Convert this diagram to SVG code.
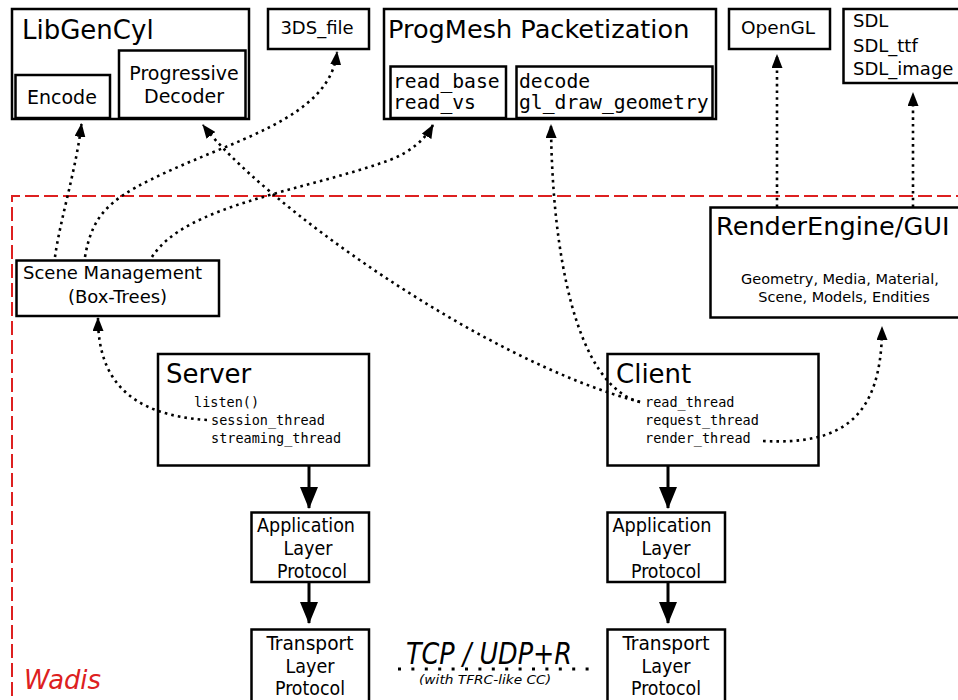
<svg xmlns="http://www.w3.org/2000/svg" width="958" height="700" viewBox="0 0 958 700">
<style>
.box{fill:#fff;stroke:#000;stroke-width:2.5}
.t{font-family:"DejaVu Sans","Liberation Sans",sans-serif;fill:#000}
.m{font-family:"DejaVu Sans Mono","Liberation Mono",monospace;fill:#000}
.c{font-family:"DejaVu Sans Condensed","DejaVu Sans","Liberation Sans",sans-serif;fill:#000;font-size:20px}
.dot{fill:none;stroke:#000;stroke-width:2.6;stroke-dasharray:2.6 4.1}
.sol{fill:none;stroke:#000;stroke-width:3}
</style>
<defs>
<marker id="ad" markerUnits="userSpaceOnUse" markerWidth="14" markerHeight="11" viewBox="0 0 14 11" refX="13" refY="5.5" orient="auto"><path d="M0,0 L14,5.5 L0,11 z" fill="#000"/></marker>
<marker id="as" markerUnits="userSpaceOnUse" markerWidth="22" markerHeight="18" viewBox="0 0 22 18" refX="21" refY="9" orient="auto"><path d="M0,0 L22,9 L0,18 z" fill="#000"/></marker>
</defs>
<rect width="958" height="700" fill="#fff"/>
<g id="wadis">
<path d="M970,196 L12,196 L12,710" fill="none" stroke="#dd2020" stroke-width="2" stroke-dasharray="14 5"/>
<text x="24" y="689" font-family="DejaVu Sans,sans-serif" font-style="italic" font-size="26" fill="#dd2020" textLength="77" lengthAdjust="spacingAndGlyphs">Wadis</text>
</g>
<g id="libgencyl">
<rect class="box" x="12" y="9" width="237" height="110"/>
<text class="t" x="22" y="39" font-size="26">LibGenCyl</text>
<rect class="box" x="15.5" y="75" width="94.5" height="43"/>
<text class="t" x="27" y="104" font-size="19">Encode</text>
<rect class="box" x="119" y="50.5" width="126.5" height="67.5"/>
<text class="t" x="184" y="80" font-size="19" text-anchor="middle">Progressive</text>
<text class="t" x="184" y="103" font-size="19" text-anchor="middle">Decoder</text>
</g>
<g id="file3ds">
<rect class="box" x="268" y="9" width="101" height="40"/>
<text class="t" x="317" y="34" font-size="18" text-anchor="middle">3DS_file</text>
</g>
<g id="progmesh">
<rect class="box" x="384" y="9" width="332" height="110"/>
<text class="t" x="388" y="38" font-size="25.6">ProgMesh Packetization</text>
<rect class="box" x="390.5" y="66.5" width="115.5" height="51.5"/>
<text class="m" x="393" y="88" font-size="19.7">read_base</text>
<text class="m" x="393" y="109" font-size="19.7">read_vs</text>
<rect class="box" x="516.5" y="66.5" width="196" height="51.5"/>
<text class="m" x="519" y="88" font-size="19.7">decode</text>
<text class="m" x="519" y="109" font-size="19.7">gl_draw_geometry</text>
</g>
<g id="opengl">
<rect class="box" x="729" y="9" width="101" height="40"/>
<text class="t" x="741" y="34" font-size="18.5">OpenGL</text>
</g>
<g id="sdl">
<rect class="box" x="843.5" y="9" width="125" height="74"/>
<text class="t" x="853" y="27" font-size="18">SDL</text>
<text class="t" x="853" y="52" font-size="18">SDL_ttf</text>
<text class="t" x="853" y="75" font-size="18">SDL_image</text>
</g>
<g id="renderengine">
<rect class="box" x="710.5" y="207.5" width="256" height="110"/>
<text class="t" x="716" y="235" font-size="25.6">RenderEngine/GUI</text>
<text class="t" x="840" y="284" font-size="14.5" text-anchor="middle">Geometry, Media, Material,</text>
<text class="t" x="844" y="302" font-size="14.5" text-anchor="middle">Scene, Models, Endities</text>
</g>
<g id="scene">
<rect class="box" x="16.5" y="260.5" width="202.5" height="55.5"/>
<text class="t" x="23" y="279" font-size="18">Scene Management</text>
<text class="t" x="117.5" y="303" font-size="18" text-anchor="middle">(Box-Trees)</text>
</g>
<g id="server">
<rect class="box" x="158" y="354" width="211" height="111.5"/>
<text class="t" x="166" y="383" font-size="26">Server</text>
<text class="m" x="194" y="407" font-size="13.5">listen()</text>
<text class="m" x="211" y="425" font-size="13.5">session_thread</text>
<text class="m" x="211" y="443" font-size="13.5">streaming_thread</text>
</g>
<g id="client">
<rect class="box" x="607.5" y="354" width="211" height="111.5"/>
<text class="t" x="616" y="383" font-size="26">Client</text>
<text class="m" x="645" y="407" font-size="13.5">read_thread</text>
<text class="m" x="645" y="425" font-size="13.5">request_thread</text>
<text class="m" x="645" y="443" font-size="13.5">render_thread</text>
</g>
<g id="server-app">
<rect class="box" x="251.5" y="512.5" width="117.5" height="69.5"/>
<text class="c" x="306" y="532" text-anchor="middle" textLength="98" lengthAdjust="spacingAndGlyphs">Application</text>
<text class="c" x="308" y="555" text-anchor="middle" textLength="49" lengthAdjust="spacingAndGlyphs">Layer</text>
<text class="c" x="312" y="578" text-anchor="middle" textLength="70" lengthAdjust="spacingAndGlyphs">Protocol</text>
</g>
<g id="client-app">
<rect class="box" x="607.5" y="512.5" width="117.5" height="69.5"/>
<text class="c" x="662" y="532" text-anchor="middle" textLength="99" lengthAdjust="spacingAndGlyphs">Application</text>
<text class="c" x="666" y="555" text-anchor="middle" textLength="49" lengthAdjust="spacingAndGlyphs">Layer</text>
<text class="c" x="666" y="578" text-anchor="middle" textLength="70" lengthAdjust="spacingAndGlyphs">Protocol</text>
</g>
<g id="server-transport">
<rect class="box" x="251.5" y="629.5" width="117.5" height="80"/>
<text class="c" x="310" y="650" text-anchor="middle" textLength="87" lengthAdjust="spacingAndGlyphs">Transport</text>
<text class="c" x="310" y="673" text-anchor="middle" textLength="49" lengthAdjust="spacingAndGlyphs">Layer</text>
<text class="c" x="310" y="695" text-anchor="middle" textLength="70" lengthAdjust="spacingAndGlyphs">Protocol</text>
</g>
<g id="client-transport">
<rect class="box" x="607.5" y="629.5" width="117.5" height="80"/>
<text class="c" x="666" y="650" text-anchor="middle" textLength="87" lengthAdjust="spacingAndGlyphs">Transport</text>
<text class="c" x="666" y="673" text-anchor="middle" textLength="49" lengthAdjust="spacingAndGlyphs">Layer</text>
<text class="c" x="666" y="695" text-anchor="middle" textLength="70" lengthAdjust="spacingAndGlyphs">Protocol</text>
</g>
<g id="connectors">
<path class="dot" d="M55,257 C60,220 76,170 81.5,124" marker-end="url(#ad)"/>
<path class="dot" d="M85,257 C92,215 110,200 150,180 C230,140 330,120 337,52" marker-end="url(#ad)"/>
<path class="dot" d="M152,257 C185,205 300,192 390,160 Q420,148 433,125" marker-end="url(#ad)"/>
<path class="dot" d="M640,402 C480,360 260,200 203,125" marker-end="url(#ad)"/>
<path class="dot" d="M640,402 C575,385 552,250 551,125" marker-end="url(#ad)"/>
<path class="dot" d="M207,420 C130,415 98,380 98,318" marker-end="url(#ad)"/>
<path class="dot" d="M763,441 C840,445 882,420 882,327" marker-end="url(#ad)"/>
<path class="dot" d="M777,207 L777,55" marker-end="url(#ad)"/>
<path class="dot" d="M913,207 L913,93" marker-end="url(#ad)"/>
<path class="sol" d="M309,466 L309,508" marker-end="url(#as)"/>
<path class="sol" d="M309,582 L309,623" marker-end="url(#as)"/>
<path class="sol" d="M668,466 L668,508" marker-end="url(#as)"/>
<path class="sol" d="M668,582 L668,623" marker-end="url(#as)"/>
<path d="M398,669 L590,669" fill="none" stroke="#000" stroke-width="3" stroke-dasharray="3 10.4"/>
<text x="406" y="664" font-family="DejaVu Sans,sans-serif" font-style="italic" font-size="30" textLength="166" lengthAdjust="spacingAndGlyphs">TCP / UDP+R</text>
<text x="419" y="684" font-family="DejaVu Sans,sans-serif" font-style="italic" font-size="13" textLength="132" lengthAdjust="spacingAndGlyphs">(with TFRC-like CC)</text>
</g>
</svg>
